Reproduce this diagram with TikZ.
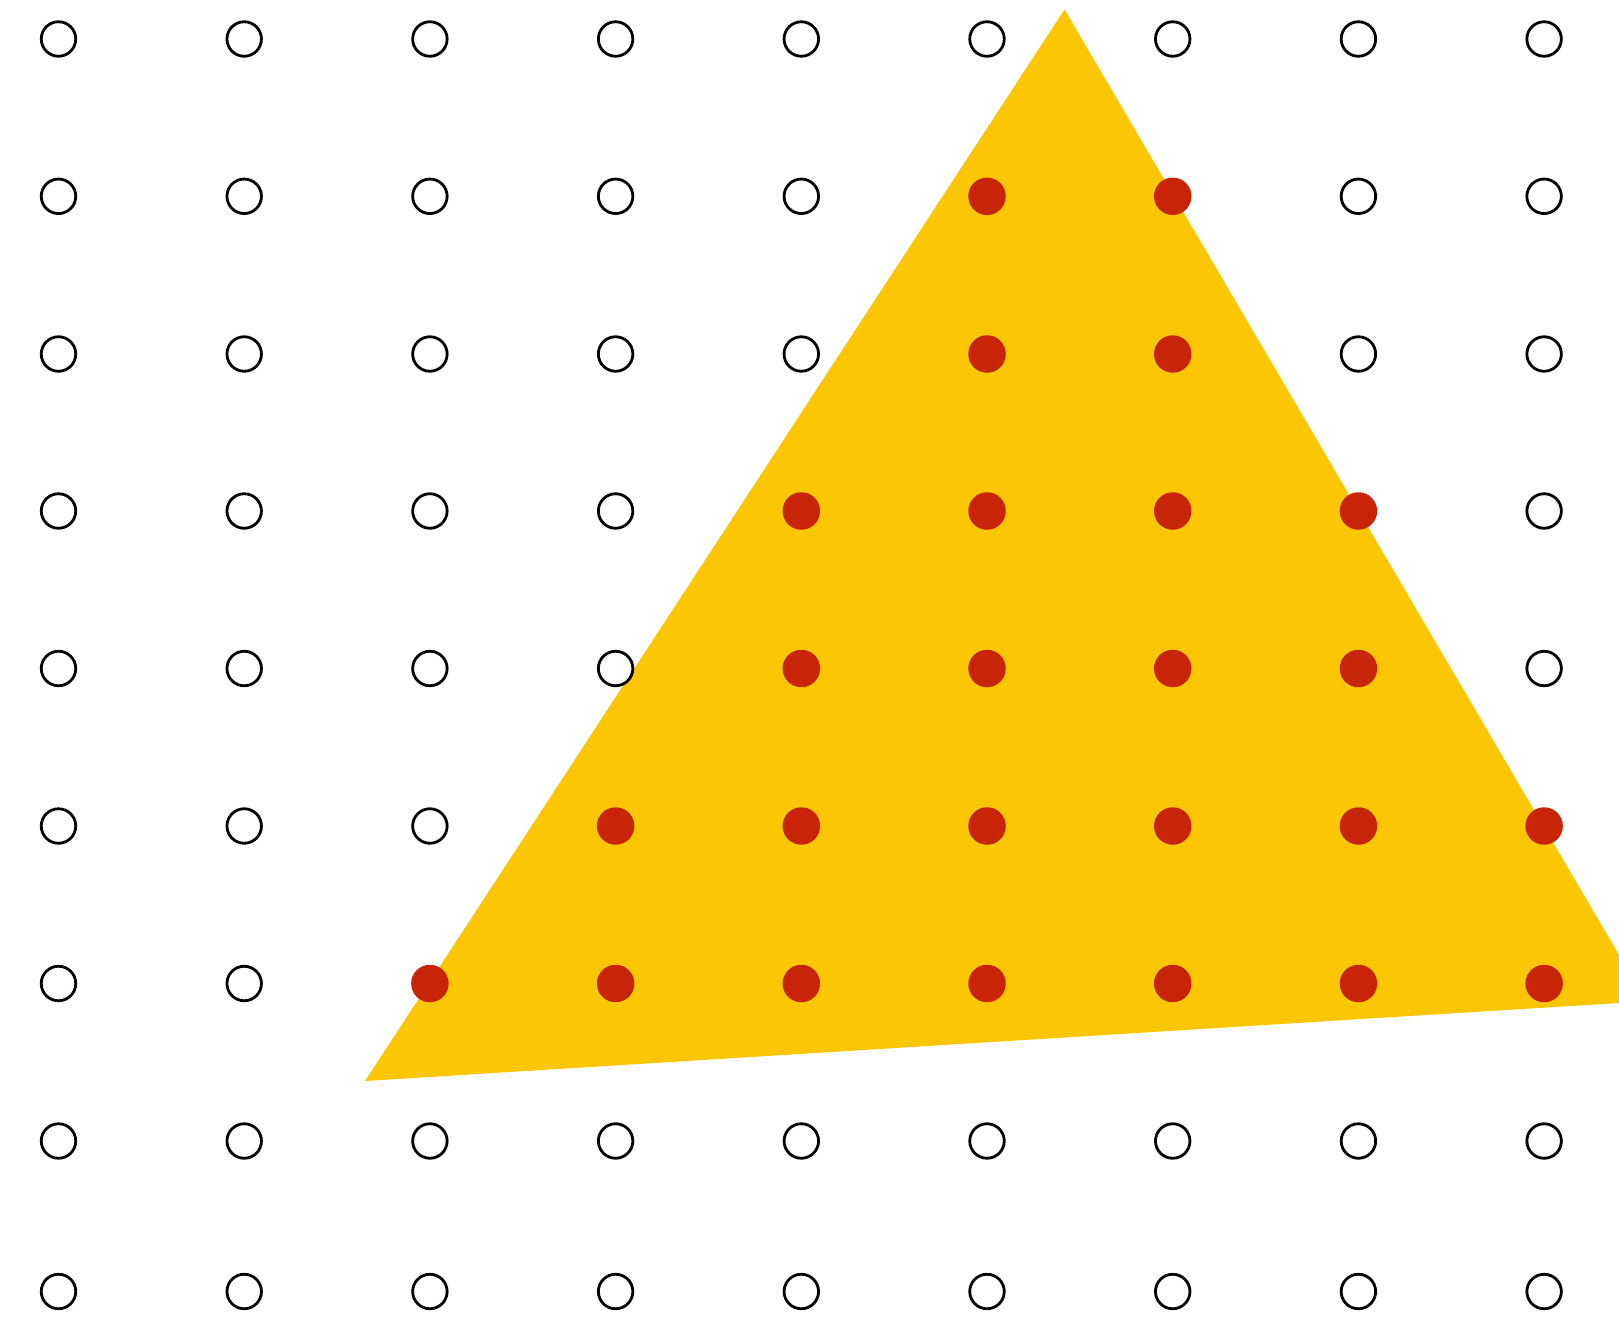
\documentclass[tikz,border=0pt]{standalone}
\definecolor{triyellow}{RGB}{253,198,3}
\definecolor{dotred}{RGB}{200,37,8}
\tikzset{
  opendot/.style={circle, draw=black, fill=white, line width=2.8pt, minimum size=34.5pt, inner sep=0pt},
  reddot/.style={circle, fill=dotred, draw=none, minimum size=37.5pt, inner sep=0pt},
}
\begin{document}
\begin{tikzpicture}[x=1pt,y=-1pt]
\useasboundingbox (0,0) rectangle (1619,1317);
\begin{scope}
\clip (0,0) rectangle (1619,1317);
\fill[triyellow] (1064.5,9.5) -- (1646.2,1001.3) -- (365,1081) -- cycle;
\end{scope}
\def\rowys{{39,196.3,354,511,668.5,826,983.5,1141,1291.5}}
\foreach \r in {0,...,8}{
  \foreach \c in {0,...,8}{
    \pgfmathsetmacro{\yy}{\rowys[\r]}
    \pgfmathsetmacro{\xx}{58.5+185.7*\c}
    \pgfmathtruncatemacro{\inside}{
      (\r==1 && \c>=5 && \c<=6) || (\r==2 && \c>=5 && \c<=6) ||
      (\r==3 && \c>=4 && \c<=7) || (\r==4 && \c>=4 && \c<=7) ||
      (\r==5 && \c>=3) || (\r==6 && \c>=2) ? 1 : 0}
    \ifnum\inside=1
      \node[reddot] (p\r-\c) at (\xx,\yy) {};
    \else
      \node[opendot] (p\r-\c) at (\xx,\yy) {};
    \fi
  }
}
\end{tikzpicture}
\end{document}
